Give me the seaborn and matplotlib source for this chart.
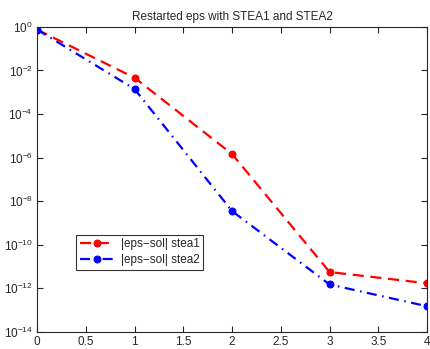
import numpy as np
import pandas as pd
import seaborn as sns
import matplotlib
matplotlib.use("Agg")
import matplotlib.pyplot as plt

# values
restarts = [0, 1, 2, 3, 4]
err_stea1 = [0.75, 4.6e-3, 1.45e-6, 5.6e-12, 1.7e-12]
err_stea2 = [0.75, 1.4e-3, 3.5e-9, 1.5e-12, 1.5e-13]
labels = ["|eps\u2212sol| stea1", "|eps\u2212sol| stea2"]
x_ticks = [0, 0.5, 1, 1.5, 2, 2.5, 3, 3.5, 4]
x_tick_labels = ["0", "0.5", "1", "1.5", "2", "2.5", "3", "3.5", "4"]
y_exps = [0, -2, -4, -6, -8, -10, -12, -14]

sns.set_style("ticks")
plt.rcParams["font.family"] = ["Liberation Sans", "DejaVu Sans"]
plt.rcParams["mathtext.fontset"] = "custom"
plt.rcParams["mathtext.rm"] = "Liberation Sans"

fig = plt.figure(figsize=(4.31, 3.49), dpi=100)
ax = fig.add_axes([0.086, 0.049, 0.905, 0.874])

df1 = pd.DataFrame({"x": restarts, "y": err_stea1})
df2 = pd.DataFrame({"x": restarts, "y": err_stea2})
sns.lineplot(data=df1, x="x", y="y", ax=ax, color="#ff0000", linestyle="--",
             linewidth=1.6, marker="o", markersize=5, markeredgecolor="#ff0000",
             label=labels[0], dashes=False)
sns.lineplot(data=df2, x="x", y="y", ax=ax, color="#0000ff", linestyle="-.",
             linewidth=1.6, marker="o", markersize=5, markeredgecolor="#0000ff",
             label=labels[1], dashes=False)
for line in ax.get_lines():
    if line.get_color() == "#ff0000":
        line.set_dashes([5, 3])
    else:
        line.set_dashes([4.5, 2.5, 0.7, 2.5])

ax.set_yscale("log")
ax.set_xlim(0, 4)
ax.set_ylim(1e-14, 1)
ax.set_xticks(x_ticks)
ax.set_xticklabels(x_tick_labels)
ax.set_yticks([10.0 ** e for e in y_exps])
ax.set_yticklabels([f"$10^{{{e}}}$".replace("-", "\u2212") for e in y_exps])
ax.yaxis.set_minor_locator(matplotlib.ticker.NullLocator())
ax.tick_params(direction="in", top=True, right=True, labelsize=8.5, length=4,
               width=0.8, pad=3)
for s in ax.spines.values():
    s.set_linewidth(0.8)
ax.set_xlabel("")
ax.set_ylabel("")
ax.set_title("Restarted eps with STEA1 and STEA2", fontsize=8.5, pad=5)

leg = ax.legend(loc="lower left", bbox_to_anchor=(0.085, 0.185), fontsize=8.5,
                frameon=True, fancybox=False, edgecolor="black",
                handlelength=3.0, borderpad=0.3, labelspacing=0.3,
                handletextpad=0.5)
leg.get_frame().set_linewidth(0.8)

fig.savefig("out.png", dpi=100)
